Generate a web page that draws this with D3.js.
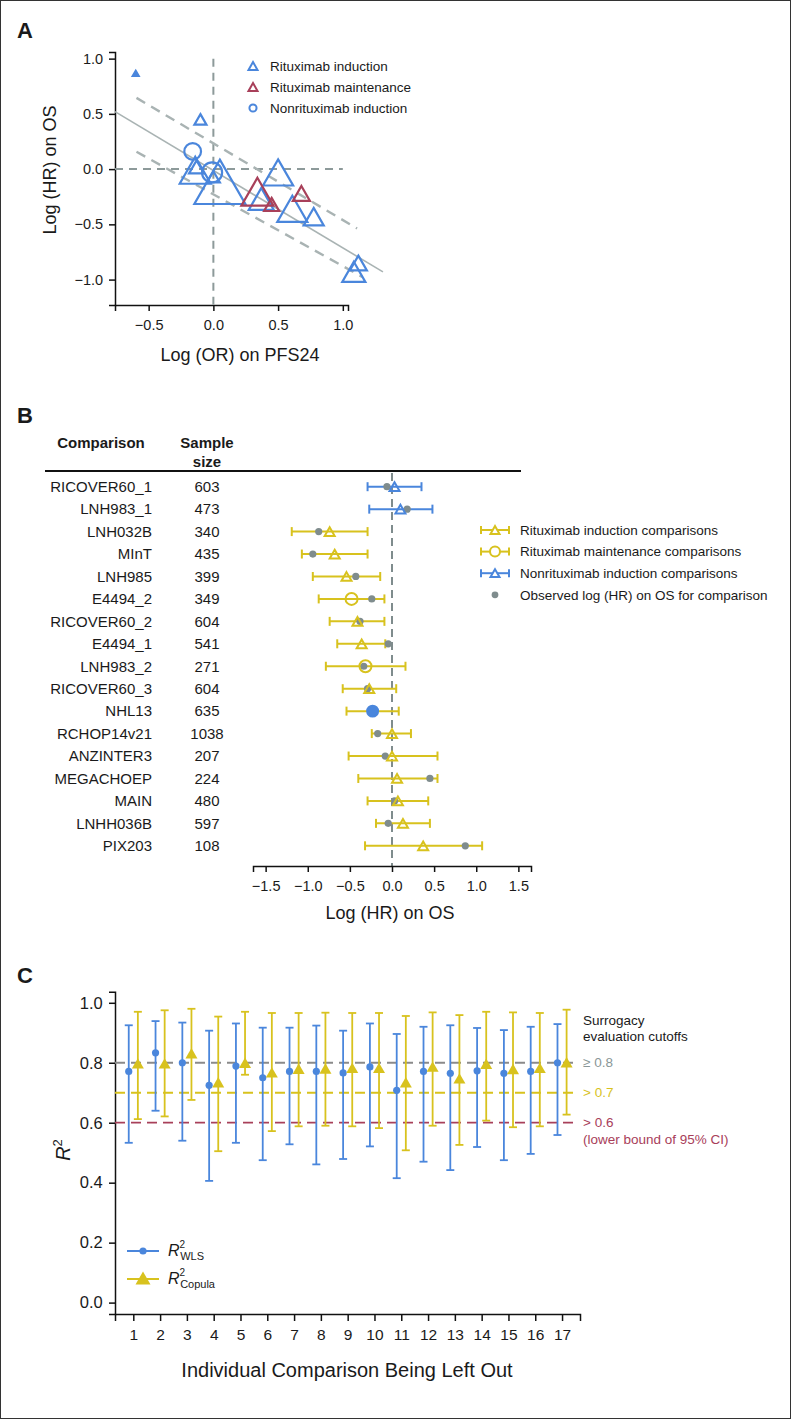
<!DOCTYPE html>
<html lang="en">
<head>
<meta charset="utf-8">
<title>Surrogacy figure</title>
<style>
  html, body { margin: 0; padding: 0; background: #fff; }
  svg text { font-family: "Liberation Sans", Arial, sans-serif; fill: #1a1a1a; }
  .letter { font-weight: bold; font-size: 22px; }
  .axis path, .axis line { stroke: #111; stroke-width: 1.5; }
</style>
</head>
<body>
<div id="fig"></div>
<script src="https://d3js.org/d3.v7.min.js"></script>
<script>
// ---------- Panel A: trial-level scatter ----------
var aGroup = ["ri","ri","ri","ri","ri","ri","ri","ri","ri","ri","ri","ri","rm","rm","rm","nr","nr"];
var aLogOR = [-0.60,-0.10,-0.14,-0.13,0.00,0.05,0.50,0.37,0.61,0.775,1.12,1.085,0.34,0.45,0.68,-0.16,-0.01];
var aLogHR = [0.866,0.45,-0.01,0.02,-0.07,-0.115,-0.03,-0.27,-0.36,-0.43,-0.85,-0.93,-0.205,-0.32,-0.22,0.16,-0.03];
var aN     = [120,245,633,306,265,1038,612,510,612,408,347,470,653,306,347,340,408];
var aFitX = [-0.76, 1.31],  aFitY = [0.52, -0.93];
var aUpX  = [-0.594, 1.11], aUpY  = [0.645, -0.537];
var aLoX  = [-0.594, 1.15], aLoY  = [0.157, -0.975];
var aXTicks = [-0.5, 0, 0.5, 1.0];
var aYTicks = [-1.0, -0.5, 0, 0.5, 1.0];
var aLegend = ["Rituximab induction", "Rituximab maintenance", "Nonrituximab induction"];

// ---------- Panel B: forest plot ----------
var bNames = ["RICOVER60_1","LNH983_1","LNH032B","MInT","LNH985","E4494_2","RICOVER60_2","E4494_1",
  "LNH983_2","RICOVER60_3","NHL13","RCHOP14v21","ANZINTER3","MEGACHOEP","MAIN","LNHH036B","PIX203"];
var bSize  = [603,473,340,435,399,349,604,541,271,604,635,1038,207,224,480,597,108];
var bType  = ["nr","nr","ri","ri","ri","rm","ri","ri","rm","ri","nc","ri","ri","ri","ri","ri","ri"];
var bEst   = [0.03,0.10,-0.74,-0.68,-0.54,-0.48,-0.41,-0.36,-0.315,-0.27,-0.23,0.00,0.00,0.06,0.07,0.13,0.37];
var bLo    = [-0.29,-0.27,-1.19,-1.07,-0.94,-0.87,-0.74,-0.65,-0.785,-0.585,-0.54,-0.24,-0.515,-0.40,-0.29,-0.19,-0.32];
var bHi    = [0.35,0.48,-0.29,-0.29,-0.14,-0.09,-0.09,-0.08,0.16,0.05,0.08,0.225,0.54,0.54,0.43,0.45,1.07];
var bObs   = [-0.06,0.18,-0.87,-0.94,-0.43,-0.24,-0.38,-0.045,-0.335,-0.29,-0.23,-0.17,-0.08,0.45,0.03,-0.045,0.87];
var bTicks = [-1.5,-1.0,-0.5,0,0.5,1.0,1.5];
var bLegend = ["Rituximab induction comparisons","Rituximab maintenance comparisons",
  "Nonrituximab induction comparisons","Observed log (HR) on OS for comparison"];

// ---------- Panel C: leave-one-out R2 ----------
var cIdx = d3.range(1, 18);
var wlsR2 = [0.771,0.833,0.800,0.725,0.789,0.750,0.771,0.771,0.766,0.786,0.708,0.771,0.765,0.773,0.765,0.771,0.800];
var wlsLo = [0.533,0.640,0.540,0.406,0.533,0.475,0.528,0.461,0.479,0.521,0.415,0.470,0.442,0.519,0.475,0.496,0.559];
var wlsHi = [0.925,0.939,0.934,0.907,0.931,0.917,0.917,0.924,0.907,0.931,0.896,0.920,0.925,0.916,0.909,0.920,0.929];
var copR2 = [0.798,0.798,0.832,0.735,0.800,0.768,0.780,0.781,0.783,0.783,0.735,0.787,0.748,0.797,0.779,0.783,0.802];
var copLo = [0.612,0.621,0.676,0.505,0.760,0.572,0.588,0.590,0.588,0.582,0.508,0.590,0.526,0.607,0.585,0.588,0.627];
var copHi = [0.970,0.975,0.980,0.954,0.970,0.966,0.966,0.967,0.966,0.966,0.956,0.968,0.959,0.970,0.968,0.966,0.977];
var cutoffs = [0.8, 0.7, 0.6];
var cutoffLabels = ["\u2265 0.8", "> 0.7", "> 0.6"];
var cYTicks = [0, 0.2, 0.4, 0.6, 0.8, 1.0];

var blue = "#4a86dc", red = "#a8405a", yellow = "#d8c21e", grayDash = "#8d9a9a", dotGray = "#7f8c8d";
var colA = {ri: blue, rm: red, nr: blue};

var svg = d3.select("#fig").append("svg").attr("width", 792).attr("height", 1420);
svg.append("rect").attr("x", 0.5).attr("y", 0.5).attr("width", 790).attr("height", 1418)
  .attr("fill", "#fff").attr("stroke", "#333").attr("stroke-width", 1);

function triPath(w) {
  var h = w * 0.87;
  return "M0," + (-h / 2) + "L" + (w / 2) + "," + (h / 2) + "L" + (-w / 2) + "," + (h / 2) + "Z";
}

// ======================= PANEL A =======================
svg.append("text").attr("class", "letter").attr("x", 17).attr("y", 38).text("A");
var ax = d3.scaleLinear().domain([-0.76, 1.04]).range([115, 348]);
var ay = d3.scaleLinear().domain([-1.23, 1.06]).range([305, 52]);
var mSize = d3.scaleLinear().domain([0, 1038]).range([0, 51]);

var gA = svg.append("g");
gA.append("g").attr("class", "axis").attr("transform", "translate(0,305)")
  .call(d3.axisBottom(ax).tickValues(aXTicks).tickFormat(d3.format(".1f")).tickSizeOuter(0).tickSize(6))
  .call(function(g) { g.selectAll("text").attr("font-size", 14.5).attr("dy", "1.1em"); });
gA.append("g").attr("class", "axis").attr("transform", "translate(115,0)")
  .call(d3.axisLeft(ay).tickValues(aYTicks).tickFormat(d3.format(".1f")).tickSizeOuter(0).tickSize(6))
  .call(function(g) { g.selectAll("text").attr("font-size", 14.5).attr("dx", "-0.2em"); });
gA.selectAll(".axis text").style("font-family", "'Liberation Sans', Arial, sans-serif");

// reference lines
gA.append("line").attr("x1", ax(0)).attr("x2", ax(0)).attr("y1", ay(1.0)).attr("y2", 305)
  .attr("stroke", grayDash).attr("stroke-width", 2).attr("stroke-dasharray", "8,6");
gA.append("line").attr("x1", 115).attr("x2", ax(1.0)).attr("y1", ay(0)).attr("y2", ay(0))
  .attr("stroke", grayDash).attr("stroke-width", 2).attr("stroke-dasharray", "8,6");
var lineA = d3.line().x(function(d) { return ax(d[0]); }).y(function(d) { return ay(d[1]); });
gA.append("path").attr("d", lineA(d3.zip(aFitX, aFitY))).attr("stroke", "#a9b3b3").attr("stroke-width", 1.6).attr("fill", "none");
gA.append("path").attr("d", lineA(d3.zip(aUpX, aUpY))).attr("stroke", "#a9b3b3").attr("stroke-width", 2.4)
  .attr("stroke-dasharray", "10,7").attr("fill", "none");
gA.append("path").attr("d", lineA(d3.zip(aLoX, aLoY))).attr("stroke", "#a9b3b3").attr("stroke-width", 2.4)
  .attr("stroke-dasharray", "10,7").attr("fill", "none");

var aPts = aGroup.map(function(g, i) { return {g: g, x: aLogOR[i], y: aLogHR[i], n: aN[i]}; });
gA.selectAll(".pt").data(aPts).enter().append("path")
  .attr("transform", function(d) { return "translate(" + ax(d.x) + "," + ay(d.y) + ")"; })
  .attr("d", function(d) {
    if (d.g === "nr") return d3.symbol().type(d3.symbolCircle).size(Math.PI * Math.pow(mSize(d.n) / 2, 2))();
    return triPath(mSize(d.n));
  })
  .attr("fill", function(d) { return mSize(d.n) < 8 ? colA[d.g] : "none"; })
  .attr("stroke", function(d) { return colA[d.g]; })
  .attr("stroke-width", 2.2);

// legend A
var legA = gA.append("g");
aLegend.forEach(function(t, i) {
  var yy = 66 + i * 21;
  var g = ["ri", "rm", "nr"][i];
  legA.append("path").attr("transform", "translate(253," + yy + ")")
    .attr("d", g === "nr" ? d3.symbol().type(d3.symbolCircle).size(40)() : triPath(9))
    .attr("fill", "none").attr("stroke", colA[g]).attr("stroke-width", 2);
  legA.append("text").attr("x", 270).attr("y", yy).attr("dy", "0.35em").attr("font-size", 13.5).text(t);
});

gA.append("text").attr("x", 240).attr("y", 361).attr("text-anchor", "middle").attr("font-size", 18).text("Log (OR) on PFS24");
gA.append("text").attr("transform", "translate(56,170) rotate(-90)").attr("text-anchor", "middle").attr("font-size", 18).text("Log (HR) on OS");

// ======================= PANEL B =======================
svg.append("text").attr("class", "letter").attr("x", 17).attr("y", 423).text("B");
var gB = svg.append("g");
var by = d3.scalePoint().domain(bNames).range([486.7, 845.8]);
var bx = d3.scaleLinear().domain([-1.65, 1.65]).range([253, 531]);

gB.append("text").attr("x", 101).attr("y", 448).attr("text-anchor", "middle").attr("font-size", 15).attr("font-weight", "bold").text("Comparison");
gB.append("text").attr("x", 207).attr("y", 448).attr("text-anchor", "middle").attr("font-size", 15).attr("font-weight", "bold").text("Sample");
gB.append("text").attr("x", 207).attr("y", 467).attr("text-anchor", "middle").attr("font-size", 15).attr("font-weight", "bold").text("size");
gB.append("line").attr("x1", 45).attr("x2", 521).attr("y1", 471).attr("y2", 471).attr("stroke", "#111").attr("stroke-width", 1.8);

gB.selectAll(".nm").data(bNames).enter().append("text")
  .attr("x", 152).attr("y", function(d) { return by(d); }).attr("dy", "0.35em")
  .attr("text-anchor", "end").attr("font-size", 15).text(function(d) { return d; });
gB.selectAll(".sz").data(bSize).enter().append("text")
  .attr("x", 207).attr("y", function(d, i) { return by(bNames[i]); }).attr("dy", "0.35em")
  .attr("text-anchor", "middle").attr("font-size", 15).text(function(d) { return d; });

gB.append("line").attr("x1", bx(0)).attr("x2", bx(0)).attr("y1", 473).attr("y2", 866)
  .attr("stroke", dotGray).attr("stroke-width", 2).attr("stroke-dasharray", "8,5");

gB.append("g").attr("class", "axis").attr("transform", "translate(0,866)")
  .call(d3.axisBottom(bx).tickValues(bTicks).tickFormat(d3.format(".1f")).tickSizeOuter(0).tickSize(6))
  .call(function(g) { g.selectAll("text").attr("font-size", 14.5).attr("dy", "1.1em").style("font-family", "'Liberation Sans', Arial, sans-serif"); });
gB.append("text").attr("x", 390).attr("y", 919).attr("text-anchor", "middle").attr("font-size", 18).text("Log (HR) on OS");

var bCol = {ri: yellow, rm: yellow, nr: blue, nc: yellow};
var bRows = bNames.map(function(n, i) {
  return {name: n, t: bType[i], est: bEst[i], lo: bLo[i], hi: bHi[i], obs: bObs[i]};
});
var rowG = gB.selectAll(".row").data(bRows).enter().append("g")
  .attr("transform", function(d) { return "translate(0," + by(d.name) + ")"; });
rowG.append("line").attr("x1", function(d) { return bx(d.lo); }).attr("x2", function(d) { return bx(d.hi); })
  .attr("stroke", function(d) { return bCol[d.t]; }).attr("stroke-width", 2);
rowG.append("line").attr("x1", function(d) { return bx(d.lo); }).attr("x2", function(d) { return bx(d.lo); })
  .attr("y1", -4.5).attr("y2", 4.5).attr("stroke", function(d) { return bCol[d.t]; }).attr("stroke-width", 2);
rowG.append("line").attr("x1", function(d) { return bx(d.hi); }).attr("x2", function(d) { return bx(d.hi); })
  .attr("y1", -4.5).attr("y2", 4.5).attr("stroke", function(d) { return bCol[d.t]; }).attr("stroke-width", 2);
rowG.append("circle").attr("cx", function(d) { return bx(d.obs); }).attr("r", 3.6).attr("fill", dotGray);
rowG.append("path")
  .attr("transform", function(d) { return "translate(" + bx(d.est) + ",0)"; })
  .attr("d", function(d) {
    if (d.t === "rm") return d3.symbol().type(d3.symbolCircle).size(Math.PI * 36)();
    if (d.t === "nc") return d3.symbol().type(d3.symbolCircle).size(Math.PI * 30)();
    return triPath(10);
  })
  .attr("fill", function(d) { return d.t === "nc" ? blue : "none"; })
  .attr("stroke", function(d) { return d.t === "nc" ? blue : bCol[d.t]; })
  .attr("stroke-width", 2);

// legend B
var legB = gB.append("g");
bLegend.forEach(function(t, i) {
  var yy = 530 + i * 21.6;
  var c = i === 2 ? blue : yellow;
  if (i < 3) {
    legB.append("line").attr("x1", 481).attr("x2", 509).attr("y1", yy).attr("y2", yy).attr("stroke", c).attr("stroke-width", 2);
    legB.append("line").attr("x1", 481).attr("x2", 481).attr("y1", yy - 4).attr("y2", yy + 4).attr("stroke", c).attr("stroke-width", 2);
    legB.append("line").attr("x1", 509).attr("x2", 509).attr("y1", yy - 4).attr("y2", yy + 4).attr("stroke", c).attr("stroke-width", 2);
    legB.append("path").attr("transform", "translate(495," + yy + ")")
      .attr("d", i === 1 ? d3.symbol().type(d3.symbolCircle).size(Math.PI * 25)() : triPath(9))
      .attr("fill", "#fff").attr("stroke", c).attr("stroke-width", 2);
  } else {
    legB.append("circle").attr("cx", 495).attr("cy", yy).attr("r", 3.4).attr("fill", dotGray);
  }
  legB.append("text").attr("x", 520).attr("y", yy).attr("dy", "0.35em").attr("font-size", 13.5).text(t);
});

// ======================= PANEL C =======================
svg.append("text").attr("class", "letter").attr("x", 17).attr("y", 983).text("C");
var gC = svg.append("g");
var cx = d3.scaleLinear().domain([0.317, 17.67]).range([115, 580]);
var cy = d3.scaleLinear().domain([-0.038, 1.037]).range([1314, 991.7]);

gC.append("g").attr("class", "axis").attr("transform", "translate(0,1314)")
  .call(d3.axisBottom(cx).tickValues(cIdx).tickFormat(d3.format("d")).tickSizeOuter(0).tickSize(7))
  .call(function(g) { g.selectAll("text").attr("font-size", 15.5).attr("dy", "1.05em").style("font-family", "'Liberation Sans', Arial, sans-serif"); });
gC.append("g").attr("class", "axis").attr("transform", "translate(115,0)")
  .call(d3.axisLeft(cy).tickValues(cYTicks).tickFormat(d3.format(".1f")).tickSizeOuter(0).tickSize(6))
  .call(function(g) { g.selectAll("text").attr("font-size", 16.5).attr("dx", "-0.2em").style("font-family", "'Liberation Sans', Arial, sans-serif"); });

var cutCol = ["#8a8a8a", yellow, red];
cutoffs.forEach(function(v, i) {
  gC.append("line").attr("x1", 115).attr("x2", 576).attr("y1", cy(v)).attr("y2", cy(v))
    .attr("stroke", cutCol[i]).attr("stroke-width", 1.8).attr("stroke-dasharray", "10,6");
  gC.append("text").attr("x", 583).attr("y", cy(v)).attr("dy", "0.35em").attr("font-size", 13.5)
    .style("fill", i === 0 ? "#8a9797" : cutCol[i]).text(cutoffLabels[i]);
});
gC.append("text").attr("x", 583).attr("y", 1020).attr("dy", "0.35em").attr("font-size", 13.5).text("Surrogacy");
gC.append("text").attr("x", 583).attr("y", 1036).attr("dy", "0.35em").attr("font-size", 13.5).text("evaluation cutoffs");
gC.append("text").attr("x", 583).attr("y", 1139).attr("dy", "0.35em").attr("font-size", 13.5).style("fill", red).text("(lower bound of 95% CI)");

function errBars(vals, lo, hi, off, col) {
  var data = cIdx.map(function(k, i) { return {k: k + off, v: vals[i], lo: lo[i], hi: hi[i]}; });
  var g = gC.append("g").attr("stroke", col).attr("stroke-width", 1.8);
  g.selectAll(".v").data(data).enter().append("line")
    .attr("x1", function(d) { return cx(d.k); }).attr("x2", function(d) { return cx(d.k); })
    .attr("y1", function(d) { return cy(d.lo); }).attr("y2", function(d) { return cy(d.hi); });
  g.selectAll(".t").data(data).enter().append("line")
    .attr("x1", function(d) { return cx(d.k) - 4; }).attr("x2", function(d) { return cx(d.k) + 4; })
    .attr("y1", function(d) { return cy(d.hi); }).attr("y2", function(d) { return cy(d.hi); });
  g.selectAll(".b").data(data).enter().append("line")
    .attr("x1", function(d) { return cx(d.k) - 4; }).attr("x2", function(d) { return cx(d.k) + 4; })
    .attr("y1", function(d) { return cy(d.lo); }).attr("y2", function(d) { return cy(d.lo); });
  return data;
}
var wData = errBars(wlsR2, wlsLo, wlsHi, -0.17, blue);
var cData = errBars(copR2, copLo, copHi, 0.17, yellow);
gC.selectAll(".wd").data(wData).enter().append("circle")
  .attr("cx", function(d) { return cx(d.k); }).attr("cy", function(d) { return cy(d.v); })
  .attr("r", 3.6).attr("fill", blue);
gC.selectAll(".cd").data(cData).enter().append("path")
  .attr("transform", function(d) { return "translate(" + cx(d.k) + "," + cy(d.v) + ")"; })
  .attr("d", triPath(12)).attr("fill", yellow);

// legend C
gC.append("line").attr("x1", 127).attr("x2", 159).attr("y1", 1251).attr("y2", 1251).attr("stroke", blue).attr("stroke-width", 2);
gC.append("circle").attr("cx", 143).attr("cy", 1251).attr("r", 3.6).attr("fill", blue);
gC.append("line").attr("x1", 127).attr("x2", 159).attr("y1", 1279).attr("y2", 1279).attr("stroke", yellow).attr("stroke-width", 2);
gC.append("path").attr("transform", "translate(143,1278)").attr("d", triPath(15)).attr("fill", yellow);
var lt1 = gC.append("text").attr("x", 168).attr("y", 1256).attr("font-size", 16);
lt1.append("tspan").attr("font-style", "italic").text("R");
lt1.append("tspan").attr("font-size", 10).attr("dy", -8).text("2");
lt1.append("tspan").attr("font-size", 11).attr("dx", -5).attr("dy", 12).text("WLS");
var lt2 = gC.append("text").attr("x", 168).attr("y", 1284).attr("font-size", 16);
lt2.append("tspan").attr("font-style", "italic").text("R");
lt2.append("tspan").attr("font-size", 10).attr("dy", -8).text("2");
lt2.append("tspan").attr("font-size", 11).attr("dx", -5).attr("dy", 12).text("Copula");

var yl = gC.append("text").attr("transform", "translate(70,1150) rotate(-90)").attr("text-anchor", "middle").attr("font-size", 20);
yl.append("tspan").attr("font-style", "italic").text("R");
yl.append("tspan").attr("font-size", 13).attr("dy", -8).text("2");
gC.append("text").attr("x", 347).attr("y", 1377).attr("text-anchor", "middle").attr("font-size", 20).text("Individual Comparison Being Left Out");
</script>
</body>
</html>
